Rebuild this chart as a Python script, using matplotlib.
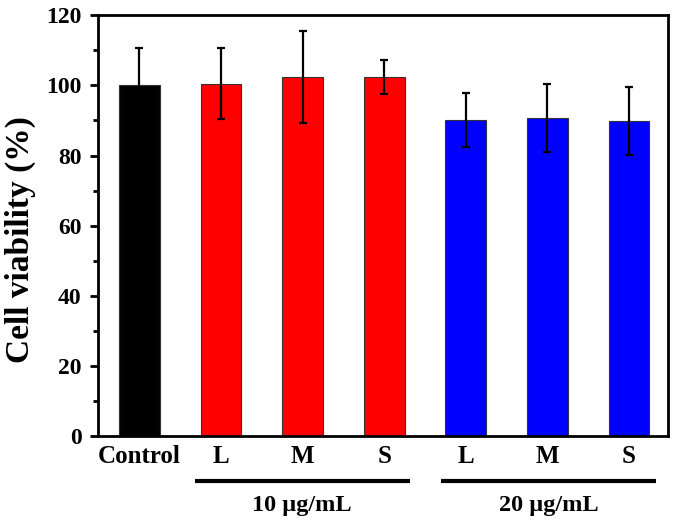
import matplotlib
matplotlib.use("Agg")
import matplotlib.pyplot as plt

categories = ["Control", "L", "M", "S", "L", "M", "S"]
values = [100.0, 100.5, 102.4, 102.4, 90.1, 90.6, 89.8]
errors = [10.5, 10.0, 13.2, 4.8, 7.8, 9.7, 9.6]
colors = ["#000000", "#ff0000", "#ff0000", "#ff0000", "#0000ff", "#0000ff", "#0000ff"]
group_labels = ["10 \u00b5g/mL", "20 \u00b5g/mL"]
group_spans = [(0.68, 3.31), (3.70, 6.33)]
yticks = [0, 20, 40, 60, 80, 100, 120]

plt.rcParams['font.family'] = ['Liberation Serif', 'DejaVu Serif']
plt.rcParams['font.weight'] = 'bold'

fig = plt.figure(figsize=(6.75, 5.23), dpi=100)
ax = fig.add_axes([0.145, 0.166, 0.845, 0.805])

x = list(range(len(categories)))
ax.bar(x, values, width=0.5, color=colors, edgecolor="#333333", linewidth=0.8, zorder=2)
ax.errorbar(x, values, yerr=errors, fmt='none', ecolor='black', elinewidth=1.6,
            capsize=3, capthick=1.6, zorder=3)

ax.set_xlim(-0.51, 6.48)
ax.set_ylim(0, 120)
ax.set_yticks(yticks)
ax.set_yticks(range(10, 120, 20), minor=True)
ax.set_xticks(x)
ax.set_xticklabels(categories, fontsize=18, fontweight='bold')
ax.tick_params(axis='x', length=0, pad=6)
ax.tick_params(axis='y', which='major', length=5.8, width=2, direction='out', labelsize=17, pad=6)
ax.tick_params(axis='y', which='minor', length=3.5, width=2, direction='out')
for lab in ax.get_yticklabels():
    lab.set_fontweight('bold')
for s in ax.spines.values():
    s.set_linewidth(2)

ax.set_ylabel("Cell viability (%)", fontsize=24, fontweight='bold')
ax.yaxis.set_label_coords(-0.109, 0.466)

for (a, b), lab in zip(group_spans, group_labels):
    ax.plot([a, b], [-0.106, -0.106], transform=ax.get_xaxis_transform(),
            color='black', lw=3, clip_on=False, solid_capstyle='butt')
    ax.text((a + b) / 2, -0.164, lab, transform=ax.get_xaxis_transform(),
            ha='center', va='center', fontsize=17.5, fontweight='bold')

fig.savefig("out.png", dpi=100)
